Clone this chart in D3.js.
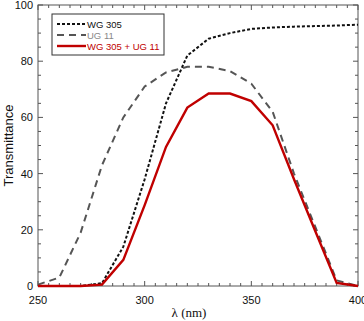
<!DOCTYPE html>
<html>
<head>
<meta charset="utf-8">
<script src="https://cdn.jsdelivr.net/npm/d3@7"></script>
<style>
  body { margin: 0; background: #fff; }
  text { font-family: "Liberation Sans", Arial, sans-serif; }
</style>
</head>
<body>
<svg id="chart" width="364" height="321"></svg>
<script>
// wavelength grid (nm) and transmittance curves (%)
var wavelength = [250, 260, 270, 280, 290, 300, 310, 320, 330, 340, 350, 360, 370, 380, 390, 400];
var wg305 = [0, 0, 0, 1, 14, 38, 65, 82, 88, 90, 91.5, 92, 92.3, 92.5, 92.7, 93];
var ug11 = [0.5, 3, 19, 43, 60, 71, 76, 78, 78, 76.5, 72, 62, 40, 21, 2, 0];
var combo = [0, 0, 0, 0.5, 9.3, 28.8, 49.5, 63.5, 68.5, 68.5, 65.8, 57.2, 38, 19.5, 1.1, 0];

var seriesNames = ["WG 305", "UG 11", "WG 305 + UG 11"];
var xTicks = [250, 300, 350, 400];
var yTicks = [0, 20, 40, 60, 80, 100];

var svg = d3.select("#chart");
var pLeft = 38, pRight = 358, pTop = 5, pBottom = 286;

var x = d3.scaleLinear().domain([250, 400]).range([pLeft, pRight]);
var y = d3.scaleLinear().domain([0, 100]).range([pBottom, pTop]);

// frame
svg.append("rect")
  .attr("x", pLeft).attr("y", pTop)
  .attr("width", pRight - pLeft).attr("height", pBottom - pTop)
  .attr("fill", "none").attr("stroke", "#555").attr("stroke-width", 1);

// inward ticks, minor every 5
var g = svg.append("g").attr("stroke", "#555").attr("stroke-width", 1);
d3.range(250, 401, 5).forEach(function (v) {
  var len = v % 50 == 0 ? 5 : 3;
  g.append("line").attr("x1", x(v)).attr("x2", x(v)).attr("y1", pBottom).attr("y2", pBottom - len);
  g.append("line").attr("x1", x(v)).attr("x2", x(v)).attr("y1", pTop).attr("y2", pTop + len);
});
d3.range(0, 101, 5).forEach(function (v) {
  var len = v % 20 == 0 ? 5 : 3;
  g.append("line").attr("y1", y(v)).attr("y2", y(v)).attr("x1", pLeft).attr("x2", pLeft + len);
  g.append("line").attr("y1", y(v)).attr("y2", y(v)).attr("x1", pRight).attr("x2", pRight - len);
});

// tick labels
svg.selectAll(".xl").data(xTicks).enter().append("text")
  .attr("x", function (d) { return x(d); }).attr("y", 304)
  .attr("text-anchor", "middle").attr("font-size", 11).attr("fill", "#111")
  .text(function (d) { return d; });
svg.selectAll(".yl").data(yTicks).enter().append("text")
  .attr("x", 33).attr("y", function (d) { return y(d) + 4; })
  .attr("text-anchor", "end").attr("font-size", 11).attr("fill", "#111")
  .text(function (d) { return d; });

// axis titles
svg.append("text")
  .attr("transform", "translate(13," + (pTop + pBottom) / 2 + ") rotate(-90)")
  .attr("text-anchor", "middle").attr("font-size", 13).attr("fill", "#111")
  .text("Transmittance");
svg.append("text")
  .attr("x", 189).attr("y", 317)
  .attr("text-anchor", "middle").attr("font-size", 13).attr("fill", "#111")
  .style("font-family", "'Liberation Serif', 'Times New Roman', serif")
  .text("λ (nm)");

// curves
var styles = [
  { data: wg305, color: "#111", width: 2, dash: "3,2" },
  { data: ug11, color: "#555", width: 2, dash: "7,5" },
  { data: combo, color: "#c00000", width: 2.4, dash: null }
];
var line = d3.line()
  .x(function (d, i) { return x(wavelength[i]); })
  .y(function (d) { return y(d); });

styles.forEach(function (s) {
  svg.append("path")
    .attr("d", line(s.data))
    .attr("fill", "none")
    .attr("stroke", s.color)
    .attr("stroke-width", s.width)
    .attr("stroke-dasharray", s.dash);
});

// legend
var lg = svg.append("g");
lg.append("rect").attr("x", 52).attr("y", 14).attr("width", 112).attr("height", 41)
  .attr("fill", "#fff").attr("stroke", "#333").attr("stroke-width", 1);
var textColors = ["#111", "#888", "#c00000"];
styles.forEach(function (s, i) {
  var yy = 24 + i * 11;
  lg.append("line").attr("x1", 57).attr("x2", 86).attr("y1", yy).attr("y2", yy)
    .attr("stroke", s.color).attr("stroke-width", s.width).attr("stroke-dasharray", s.dash);
  lg.append("text").attr("x", 87).attr("y", yy + 3.5)
    .attr("font-size", 9.5).attr("fill", textColors[i])
    .text(seriesNames[i]);
});
</script>
</body>
</html>
